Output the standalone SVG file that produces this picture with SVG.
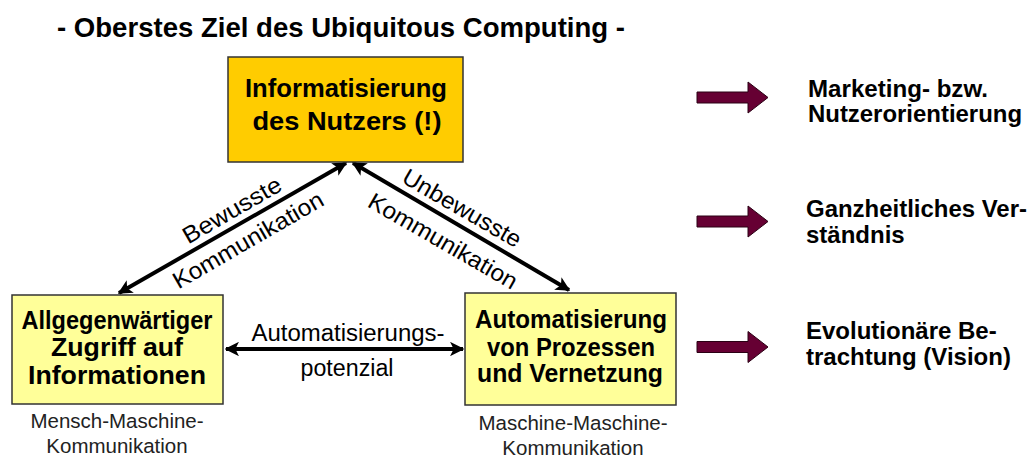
<svg xmlns="http://www.w3.org/2000/svg" width="1034" height="457" viewBox="0 0 1034 457">
<defs>
<marker id="ah" viewBox="0 0 10 10" refX="9" refY="5" markerWidth="3.6" markerHeight="3.6" orient="auto-start-reverse" markerUnits="strokeWidth">
<path d="M0,0 L10,5 L0,10 L2.5,5 Z" fill="#000"/>
</marker>
<polygon id="fat" points="0,-5.5 51,-5.5 51,-15.5 71,0 51,15.5 51,5.5 0,5.5" fill="#660033" stroke="#2a0014" stroke-width="1"/>
</defs>
<style>
text{font-family:"Liberation Sans",Arial,sans-serif;fill:#000}
.title{font-size:27px;font-weight:bold}
.box{font-size:25px;font-weight:bold;text-anchor:middle}
.lab{font-size:23.5px;text-anchor:middle}
.sub{font-size:20.5px;text-anchor:middle;fill:#222}
.rt{font-size:24px;font-weight:bold}
.conn{stroke:#000;stroke-width:4;fill:none;marker-start:url(#ah);marker-end:url(#ah)}
</style>
<rect width="1034" height="457" fill="#fff"/>
<text class="title" x="57" y="37" textLength="568" lengthAdjust="spacingAndGlyphs">- Oberstes Ziel des Ubiquitous Computing -</text>

<g id="connectors">
<line class="conn" x1="119" y1="293" x2="346" y2="163"/>
<line class="conn" x1="353" y1="163" x2="569" y2="290"/>
<line class="conn" x1="226" y1="349" x2="463" y2="349"/>
</g>

<g id="node-top">
<rect x="228" y="57" width="235" height="105" fill="#FFCC00" stroke="#333" stroke-width="1.5"/>
<text class="box" x="346" y="97" font-size="26" textLength="202" lengthAdjust="spacingAndGlyphs">Informatisierung</text>
<text class="box" x="347" y="130" font-size="26" textLength="189" lengthAdjust="spacingAndGlyphs">des Nutzers (!)</text>
</g>

<g id="node-left">
<rect x="12" y="295" width="211" height="109" fill="#FFFF99" stroke="#333" stroke-width="1.5"/>
<text class="box" x="117" y="329" textLength="191" lengthAdjust="spacingAndGlyphs">Allgegenwärtiger</text>
<text class="box" x="117" y="356" textLength="132" lengthAdjust="spacingAndGlyphs">Zugriff auf</text>
<text class="box" x="117" y="384" textLength="178" lengthAdjust="spacingAndGlyphs">Informationen</text>
<text class="sub" x="117" y="428">Mensch-Maschine-</text>
<text class="sub" x="117" y="453">Kommunikation</text>
</g>

<g id="node-right">
<rect x="465" y="293" width="211" height="112" fill="#FFFF99" stroke="#333" stroke-width="1.5"/>
<text class="box" x="571" y="328" textLength="192" lengthAdjust="spacingAndGlyphs">Automatisierung</text>
<text class="box" x="571" y="356" textLength="168" lengthAdjust="spacingAndGlyphs">von Prozessen</text>
<text class="box" x="570" y="382" textLength="186" lengthAdjust="spacingAndGlyphs">und Vernetzung</text>
<text class="sub" x="573" y="430">Maschine-Maschine-</text>
<text class="sub" x="573" y="455">Kommunikation</text>
</g>

<g id="labels">
<text class="lab" transform="translate(236,217) rotate(-30)" textLength="110" lengthAdjust="spacingAndGlyphs">Bewusste</text>
<text class="lab" transform="translate(252,247) rotate(-30)" textLength="170" lengthAdjust="spacingAndGlyphs">Kommunikation</text>
<text class="lab" transform="translate(458,215) rotate(30)" textLength="133" lengthAdjust="spacingAndGlyphs">Unbewusste</text>
<text class="lab" transform="translate(439,248) rotate(30)" textLength="168" lengthAdjust="spacingAndGlyphs">Kommunikation</text>
<text class="lab" x="348" y="341" textLength="193" lengthAdjust="spacingAndGlyphs">Automatisierungs-</text>
<text class="lab" x="347" y="376" textLength="93" lengthAdjust="spacingAndGlyphs">potenzial</text>
</g>

<g id="right-items">
<use href="#fat" x="697" y="97.5"/>
<text class="rt" x="808" y="97" textLength="180" lengthAdjust="spacingAndGlyphs">Marketing- bzw.</text>
<text class="rt" x="808" y="122" textLength="214" lengthAdjust="spacingAndGlyphs">Nutzerorientierung</text>
<use href="#fat" x="697" y="221.5"/>
<text class="rt" x="806" y="217" textLength="221" lengthAdjust="spacingAndGlyphs">Ganzheitliches Ver-</text>
<text class="rt" x="806" y="243">ständnis</text>
<use href="#fat" x="697" y="347"/>
<text class="rt" x="806" y="339">Evolutionäre Be-</text>
<text class="rt" x="806" y="365">trachtung (Vision)</text>
</g>
</svg>
